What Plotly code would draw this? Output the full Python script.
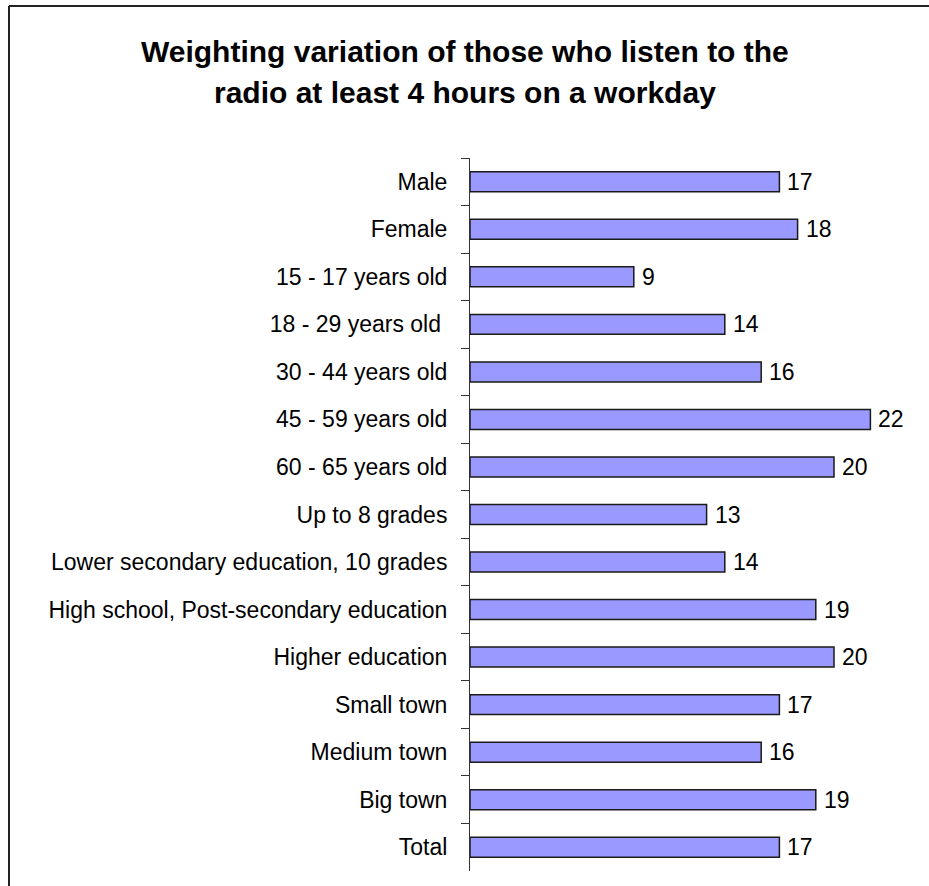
import plotly.graph_objects as go

# Survey groups and weighting variation (%) for listeners of 4+ hours on a workday
categories = [
    "Male",
    "Female",
    "15 - 17 years old",
    "18 - 29 years old ",
    "30 - 44 years old",
    "45 - 59 years old",
    "60 - 65 years old",
    "Up to 8 grades",
    "Lower secondary education, 10 grades",
    "High school, Post-secondary education",
    "Higher education",
    "Small town",
    "Medium town",
    "Big town",
    "Total",
]
values = [17, 18, 9, 14, 16, 22, 20, 13, 14, 19, 20, 17, 16, 19, 17]

title_lines = [
    "Weighting variation of those who listen to the",
    "radio at least 4 hours on a workday",
]

FONT = "Liberation Sans, Arial, sans-serif"
W, H = 929, 886
ML, MR, MT, MB = 470, 19, 158, 15
PW, PH = W - ML - MR, H - MT - MB


def px_x(x):
    return (x - ML) / PW


def px_y(y):
    return 1 - (y - MT) / PH


fig = go.Figure(
    go.Bar(
        x=values,
        y=categories,
        orientation="h",
        width=0.42,
        marker=dict(color="#9999FF", line=dict(color="#1a1a1a", width=1.5)),
        cliponaxis=False,
        hoverinfo="x+y",
    )
)

# Value labels just past the end of each bar
for cat, val in zip(categories, values):
    fig.add_annotation(
        x=val,
        y=cat,
        text=str(val),
        xanchor="left",
        yanchor="middle",
        xshift=6,
        showarrow=False,
        font=dict(family=FONT, size=23, color="#000000"),
    )

fig.update_layout(
    width=W,
    height=H,
    margin=dict(l=ML, r=MR, t=MT, b=MB),
    paper_bgcolor="white",
    plot_bgcolor="white",
    showlegend=False,
    font=dict(family=FONT, size=23, color="#000000"),
    xaxis=dict(range=[0, PW / 18.2], visible=False, fixedrange=True),
    yaxis=dict(
        autorange="reversed",
        tickson="boundaries",
        ticks="outside",
        ticklen=8,
        tickcolor="#333333",
        tickwidth=1,
        showline=True,
        linecolor="#333333",
        linewidth=1,
        showgrid=False,
        ticklabelstandoff=17,
        tickfont=dict(family=FONT, size=23, color="#000000"),
    ),
)

# Title, two centred lines
for line, ypix in zip(title_lines, [52, 93]):
    fig.add_annotation(
        text="<b>%s</b>" % line,
        xref="paper",
        yref="paper",
        x=px_x(465),
        y=px_y(ypix),
        xanchor="center",
        yanchor="middle",
        showarrow=False,
        font=dict(family=FONT, size=30, color="#000000"),
    )

# Frame around the chart (top and left edges)
fig.add_shape(type="line", xref="paper", yref="paper",
              x0=px_x(9), x1=px_x(W + 5), y0=px_y(6), y1=px_y(6),
              line=dict(color="#222222", width=2))
fig.add_shape(type="line", xref="paper", yref="paper",
              x0=px_x(9), x1=px_x(9), y0=px_y(6), y1=px_y(H + 5),
              line=dict(color="#222222", width=2))

fig.write_html("out.html")
